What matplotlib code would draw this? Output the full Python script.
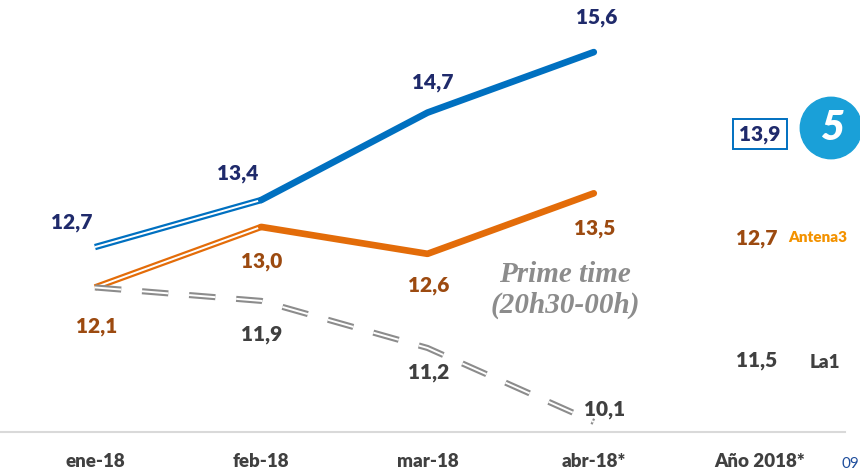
import matplotlib.pyplot as plt
from matplotlib.patches import Circle

plt.rcParams['font.family'] = ['Lato', 'DejaVu Sans']
plt.rcParams['lines.scale_dashes'] = False

months = ['ene-18', 'feb-18', 'mar-18', 'abr-18*', 'Año 2018*']
telecinco = [12.7, 13.4, 14.7, 15.6]
antena3 = [12.1, 13.0, 12.6, 13.5]
la1 = [12.1, 11.9, 11.2, 10.1]
year_values = {'Telecinco': 13.9, 'Antena3': 12.7, 'La1': 11.5}

c_t5 = '#0070C0'
c_a3 = '#E36C09'
c_la1 = '#8C8C8C'
c_t5_txt = '#1F2A6B'
c_a3_txt = '#9C4A10'
c_la1_txt = '#404040'
W = 'heavy'

fig = plt.figure(figsize=(8.6, 4.72), dpi=100)
ax = fig.add_axes([0, 40 / 472, 1, 432 / 472])
ax.set_xlim(-0.571, 4.601)
ax.set_ylim(9.95, 16.375)
for s in ax.spines.values():
    s.set_visible(False)
ax.set_yticks([])
ax.set_xticks(range(len(months)))
ax.set_xticklabels(months, fontsize=13.5, fontweight=W, color='#404040')
ax.tick_params(axis='x', length=0, pad=15)
ax.axhline(9.95, xmin=0, xmax=845 / 860, color='#D9D9D9', lw=1.5, clip_on=False)

x = list(range(len(telecinco)))

# double (hollow) first segment, thick solid afterwards
for vals, col in [(telecinco, c_t5), (antena3, c_a3)]:
    ax.plot(x[:2], vals[:2], color=col, lw=4.6, solid_capstyle='butt')
    ax.plot(x[:2], vals[:2], color='white', lw=1.4, solid_capstyle='butt')
    ax.plot(x[1:], vals[1:], color=col, lw=4.8, solid_capstyle='round',
            solid_joinstyle='round')

# La1 double dashed
ax.plot(x, la1, color=c_la1, lw=4.4, dashes=(19, 15), dash_capstyle='butt')
ax.plot(x, la1, color='white', lw=1.4, dashes=(19, 15), dash_capstyle='butt')

# value labels (offsets in points)
t5_off = [(-17, 18), (-17, 19), (4, 22), (2, 25)]
a3_off = [(1, -28), (0, -25), (1, -23), (1, -25)]
la1_off = [None, (0, -24), (1, -18), (8, 9)]
for i in range(4):
    ax.annotate(f'{telecinco[i]:.1f}'.replace('.', ','), (x[i], telecinco[i]),
                xytext=t5_off[i], textcoords='offset points', ha='center',
                va='center', fontsize=15, fontweight=W, color=c_t5_txt)
    ax.annotate(f'{antena3[i]:.1f}'.replace('.', ','), (x[i], antena3[i]),
                xytext=a3_off[i], textcoords='offset points', ha='center',
                va='center', fontsize=15, fontweight=W, color=c_a3_txt)
    if la1_off[i] is not None:
        ax.annotate(f'{la1[i]:.1f}'.replace('.', ','), (x[i], la1[i]),
                    xytext=la1_off[i], textcoords='offset points', ha='center',
                    va='center', fontsize=15, fontweight=W, color=c_la1_txt)

# Prime time note
fig.text(565 / 860, 1 - 290 / 472, 'Prime time\n(20h30-00h)', ha='center',
         va='center', fontsize=21, fontweight='bold', fontstyle='italic',
         family='Liberation Serif', color='#8C8C8C', linespacing=1.15)

# annual column
fig.text(760 / 860, 1 - 134 / 472,
         f"{year_values['Telecinco']:.1f}".replace('.', ','), ha='center',
         va='center', fontsize=15, fontweight=W, color=c_t5_txt,
         bbox=dict(boxstyle='square,pad=0.28', fc='white', ec=c_t5, lw=1.4))
fig.text(757 / 860, 1 - 238 / 472,
         f"{year_values['Antena3']:.1f}".replace('.', ','), ha='center',
         va='center', fontsize=15, fontweight=W, color=c_a3_txt)
fig.text(788 / 860, 1 - 238 / 472, 'Antena3', ha='left', va='center',
         fontsize=11, fontweight=W, color='#F39200')
fig.text(757 / 860, 1 - 361 / 472,
         f"{year_values['La1']:.1f}".replace('.', ','), ha='center',
         va='center', fontsize=15, fontweight=W, color=c_la1_txt)
fig.text(810 / 860, 1 - 362 / 472, 'La1', ha='left', va='center',
         fontsize=13.5, fontweight=W, color=c_la1_txt)

# Telecinco logo
lax = fig.add_axes([799 / 860, 1 - 160 / 472, 64 / 860, 64 / 472])
lax.set_xlim(0, 1)
lax.set_ylim(0, 1)
lax.axis('off')
lax.add_patch(Circle((0.5, 0.5), 0.48, color='#1AA0D8', clip_on=False))
lax.text(0.52, 0.5, '5', ha='center', va='center', fontsize=30,
         fontweight=W, fontstyle='italic', color='white')

# page number at bottom-right corner
fig.text(859 / 860, 1 - 464 / 472, '09', ha='right', va='center',
         fontsize=11, color='#1F4E9C')

fig.savefig('out.png', dpi=100)
